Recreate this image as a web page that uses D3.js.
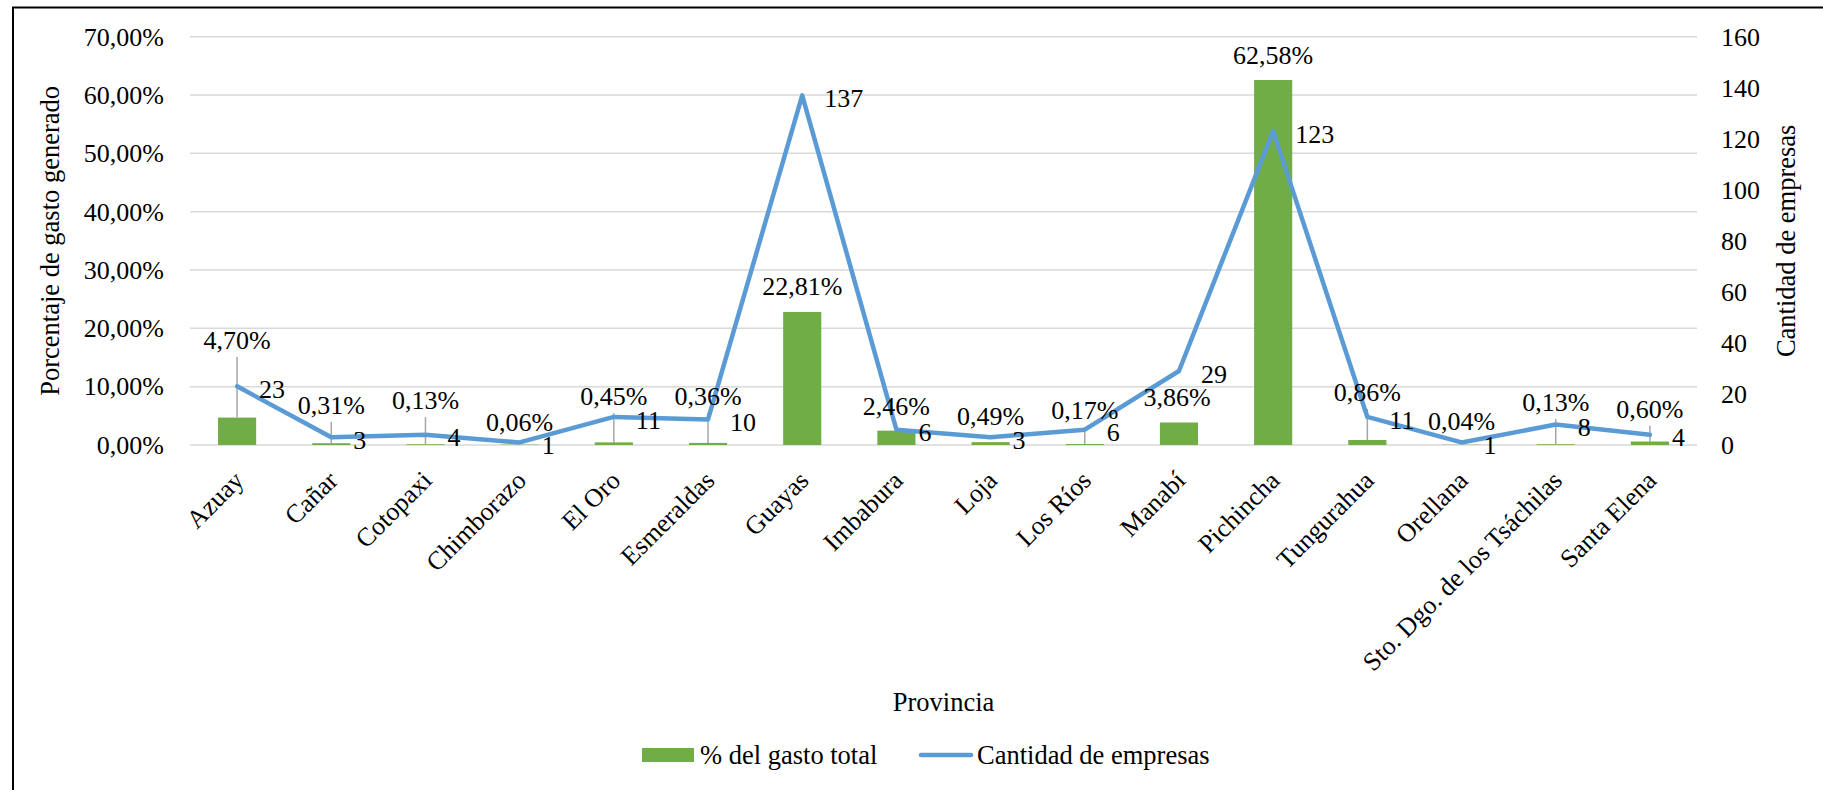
<!DOCTYPE html>
<html><head><meta charset="utf-8">
<script src="https://cdn.jsdelivr.net/npm/d3@7"></script>
<style>
body{margin:0;background:#fff;}
svg{display:block;}
text{font-family:"Liberation Serif","Times New Roman",serif;fill:#000;}
</style>
</head><body>
<svg id="c" width="1823" height="790"></svg>
<script>
// ---- data ----
const provinces = ["Azuay","Cañar","Cotopaxi","Chimborazo","El Oro","Esmeraldas","Guayas","Imbabura","Loja","Los Ríos","Manabí","Pichincha","Tungurahua","Orellana","Sto. Dgo. de los Tsáchilas","Santa Elena"];
const pctGasto = [4.70,0.31,0.13,0.06,0.45,0.36,22.81,2.46,0.49,0.17,3.86,62.58,0.86,0.04,0.13,0.60];
const empresas = [23,3,4,1,11,10,137,6,3,6,29,123,11,1,8,4];
const pctTicks = [0,10,20,30,40,50,60,70];
const empTicks = [0,20,40,60,80,100,120,140,160];
// label layout (where each % label sits, in % axis units) and whether a leader line is drawn
const pctLabelAt = [18.0,6.9,7.7,3.9,8.4,8.4,27.3,6.7,5.0,6.0,8.2,66.8,9.1,4.1,7.4,6.2];
const pctLeader = [true,true,true,false,true,true,false,false,false,true,false,false,true,false,true,true];

const locale = d3.formatLocale({decimal:",",thousands:".",grouping:[3],currency:["$",""]});
const fmtPct = v => locale.format(".2f")(v) + "%";

const svg = d3.select("#c");
const L = 190, R = 1697, T = 36.7, B = 445;
const green = "#70AD47", blue = "#5B9BD5", grid = "#D9D9D9", leader = "#A6A6A6";

// outer border
svg.append("rect").attr("x",13).attr("y",7.5).attr("width",1900).attr("height",900)
  .attr("fill","none").attr("stroke","#000").attr("stroke-width",2);

const x = d3.scaleBand().domain(provinces).range([L,R]).padding(0);
const yL = d3.scaleLinear().domain([0,70]).range([B,T]);
const yR = d3.scaleLinear().domain([0,160]).range([B,T]);
const cx = d => x(d) + x.bandwidth()/2;
const bw = x.bandwidth()*0.405;

// gridlines
svg.append("g").selectAll("line").data(pctTicks).join("line")
  .attr("x1",L).attr("x2",R).attr("y1",d=>yL(d)).attr("y2",d=>yL(d))
  .attr("stroke",grid).attr("stroke-width",1.5);

// left axis
const axL = svg.append("g").attr("transform",`translate(${L},0)`)
  .call(d3.axisLeft(yL).tickValues(pctTicks).tickSize(0).tickPadding(26).tickFormat(fmtPct));
axL.select(".domain").remove();
axL.selectAll("text").attr("font-size",26);

// right axis
const axR = svg.append("g").attr("transform",`translate(${R},0)`)
  .call(d3.axisRight(yR).tickValues(empTicks).tickSize(0).tickPadding(24).tickFormat(d3.format("d")));
axR.select(".domain").remove();
axR.selectAll("text").attr("font-size",26);

// bars
svg.append("g").selectAll("rect").data(provinces).join("rect")
  .attr("x",d=>cx(d)-bw/2).attr("width",bw)
  .attr("y",(d,i)=>yL(pctGasto[i])).attr("height",(d,i)=>B-yL(pctGasto[i]))
  .attr("fill",green);

// leader lines
svg.append("g").selectAll("line").data(provinces.filter((d,i)=>pctLeader[i])).join("line")
  .attr("x1",d=>cx(d)).attr("x2",d=>cx(d))
  .attr("y1",d=>yL(pctLabelAt[provinces.indexOf(d)])+17)
  .attr("y2",d=>yL(pctGasto[provinces.indexOf(d)]))
  .attr("stroke",leader).attr("stroke-width",1.5);

// line
const line = d3.line().x((d,i)=>cx(provinces[i])).y(d=>yR(d));
svg.append("path").datum(empresas).attr("d",line)
  .attr("fill","none").attr("stroke",blue).attr("stroke-width",4.5)
  .attr("stroke-linejoin","round").attr("stroke-linecap","round");

// % labels
svg.append("g").selectAll("text").data(provinces).join("text")
  .attr("x",(d,i)=>cx(d) + (i===10 ? -2 : 0))
  .attr("y",(d,i)=>yL(pctLabelAt[i])).attr("dy","0.35em")
  .attr("text-anchor","middle").attr("font-size",26)
  .text((d,i)=>fmtPct(pctGasto[i]));

// count labels
svg.append("g").selectAll("text").data(provinces).join("text")
  .attr("x",d=>cx(d)+22)
  .attr("y",(d,i)=>yR(empresas[i])+2.5).attr("dy","0.35em")
  .attr("text-anchor","start").attr("font-size",26)
  .text((d,i)=>empresas[i]);

// x labels
svg.append("g").selectAll("text").data(provinces).join("text")
  .attr("transform",d=>`translate(${cx(d)+8},482) rotate(-45)`)
  .attr("text-anchor","end").attr("font-size",26)
  .text(d=>d);

// axis titles
svg.append("text").attr("transform",`translate(50,${(T+B)/2}) rotate(-90)`)
  .attr("text-anchor","middle").attr("dy","0.35em").attr("font-size",26.5)
  .text("Porcentaje de gasto generado");
svg.append("text").attr("transform",`translate(1786,${(T+B)/2}) rotate(-90)`)
  .attr("text-anchor","middle").attr("dy","0.35em").attr("font-size",26.5)
  .text("Cantidad de empresas");
svg.append("text").attr("x",(L+R)/2).attr("y",702).attr("dy","0.35em")
  .attr("text-anchor","middle").attr("font-size",26.5).text("Provincia");

// legend
const lg = svg.append("g");
lg.append("rect").attr("x",642).attr("y",748).attr("width",52).attr("height",14).attr("fill",green);
lg.append("text").attr("x",700).attr("y",755).attr("dy","0.35em").attr("font-size",26.5).text("% del gasto total");
lg.append("line").attr("x1",921).attr("x2",971).attr("y1",755).attr("y2",755)
  .attr("stroke",blue).attr("stroke-width",4.5).attr("stroke-linecap","round");
lg.append("text").attr("x",977).attr("y",755).attr("dy","0.35em").attr("font-size",26.5).text("Cantidad de empresas");
</script>
</body></html>
